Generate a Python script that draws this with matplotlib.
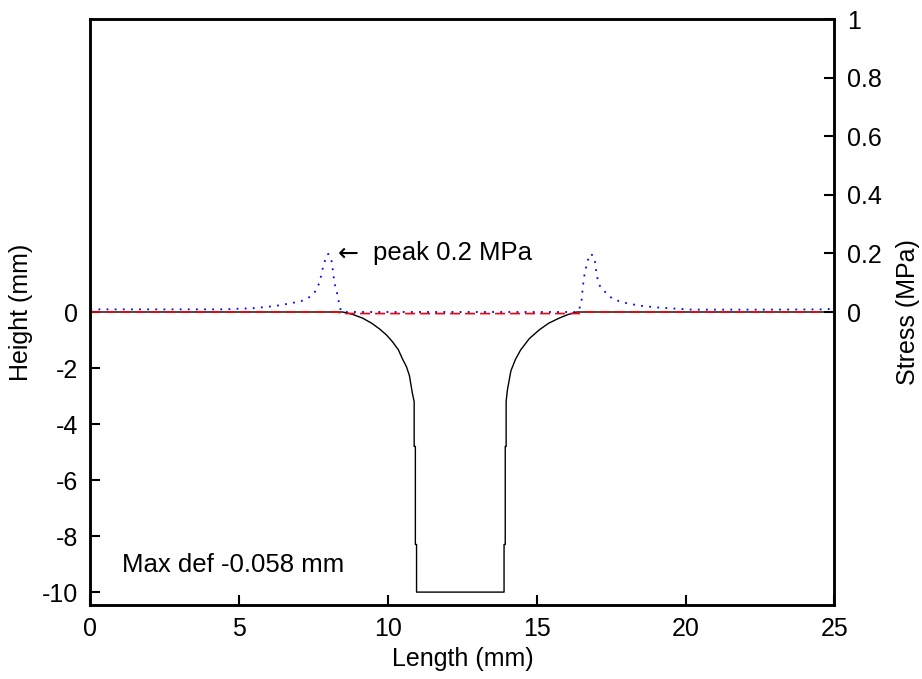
import numpy as np
import matplotlib
matplotlib.use("Agg")
import matplotlib.pyplot as plt

plt.rcParams['font.family'] = ['Liberation Sans', 'DejaVu Sans']
plt.rcParams['axes.unicode_minus'] = False

# surface height profile (mm) - black
prof_x = [0, 8.48, 8.8, 9.15, 9.45, 9.71, 9.95, 10.15, 10.35, 10.48, 10.62, 10.72,
          10.82, 10.88, 10.88, 10.92, 10.92, 10.96, 10.96,
          13.9, 13.9, 13.94, 13.94, 13.97, 13.97, 14.01, 14.13, 14.28, 14.46,
          14.75, 15.08, 15.4, 15.75, 16.05, 16.35, 25]
prof_y = [0, 0, -0.08, -0.22, -0.4, -0.6, -0.82, -1.06, -1.35, -1.66, -1.95, -2.27,
          -2.9, -3.2, -4.8, -4.8, -8.3, -8.3, -10,
          -10, -8.3, -8.3, -4.8, -4.8, -3.2, -2.8, -2.1, -1.7, -1.35,
          -0.95, -0.64, -0.4, -0.22, -0.09, 0, 0]

# deflected surface (mm) - red dashed
defl_x = [0, 8.3, 8.45, 12.4, 16.45, 16.6, 25]
defl_y = [0, 0, -0.055, -0.058, -0.055, 0, 0]

# contact stress (MPa) - blue dotted
stress_x = [0, 2, 4.45, 5.5, 6.24, 6.69, 7.08, 7.3, 7.53, 7.7, 7.81, 7.94, 8.0,
            8.11, 8.2, 8.28, 8.34, 8.42, 8.5, 16.35, 16.42, 16.51, 16.55, 16.61,
            16.7, 16.79, 16.89, 16.96, 17.01, 17.07, 17.15, 17.37, 17.57, 17.98,
            18.43, 19.1, 20.22, 22.5, 24.7, 25]
stress_y = [0.009, 0.009, 0.009, 0.013, 0.021, 0.029, 0.037, 0.046, 0.066, 0.10,
            0.15, 0.195, 0.198, 0.172, 0.10, 0.069, 0.038, 0.003, 0.0, 0.0, 0.006,
            0.043, 0.089, 0.132, 0.172, 0.198, 0.193, 0.17, 0.129, 0.10, 0.083,
            0.061, 0.043, 0.031, 0.022, 0.015, 0.008, 0.008, 0.009, 0.012]

fig = plt.figure(figsize=(9.22, 6.79), dpi=100)
ax = fig.add_axes([0.098, 0.109, 0.807, 0.863])
ax.plot(prof_x, prof_y, color='black', lw=1.0)
ax.plot(defl_x, defl_y, color='red', lw=1.2, linestyle=(0, (6, 3)))
ax.set_xlim(0, 25)
ax.set_ylim(-10.46, 10.46)
ax.set_xticks([0, 5, 10, 15, 20, 25])
ax.set_yticks([-10, -8, -6, -4, -2, 0])
ax.tick_params(direction='in', length=7, width=1.5, labelsize=18, pad=9,
               right=False, top=False)
for s in ax.spines.values():
    s.set_linewidth(1.8)
ax.set_xlabel('Length (mm)', fontsize=18, labelpad=4)
ax.set_ylabel('Height (mm)', fontsize=18, labelpad=6)
ax.text(1.05, -9.02, 'Max def -0.058 mm', fontsize=18.5, va='center', ha='left')

ax2 = ax.twinx()
ax2.plot(stress_x, stress_y, color='blue', lw=1.3, linestyle=(0, (1, 3.5)))
ax2.set_ylim(-1, 1)
ax2.set_yticks([0, 0.2, 0.4, 0.6, 0.8, 1])
ax2.set_yticklabels(['0', '0.2', '0.4', '0.6', '0.8', '1'])
ax2.tick_params(direction='in', length=7, width=1.5, labelsize=18, pad=9)
for s in ax2.spines.values():
    s.set_linewidth(1.8)
ax2.set_ylabel('Stress (MPa)', fontsize=18, rotation=90, labelpad=10)
ax2.text(8.33, 0.2, '\u2190', fontsize=18, va='center', ha='left',
         family=['DejaVu Sans'])
ax2.text(9.5, 0.2, 'peak 0.2 MPa', fontsize=18.5, va='center', ha='left')

fig.savefig('out.png', dpi=100)
